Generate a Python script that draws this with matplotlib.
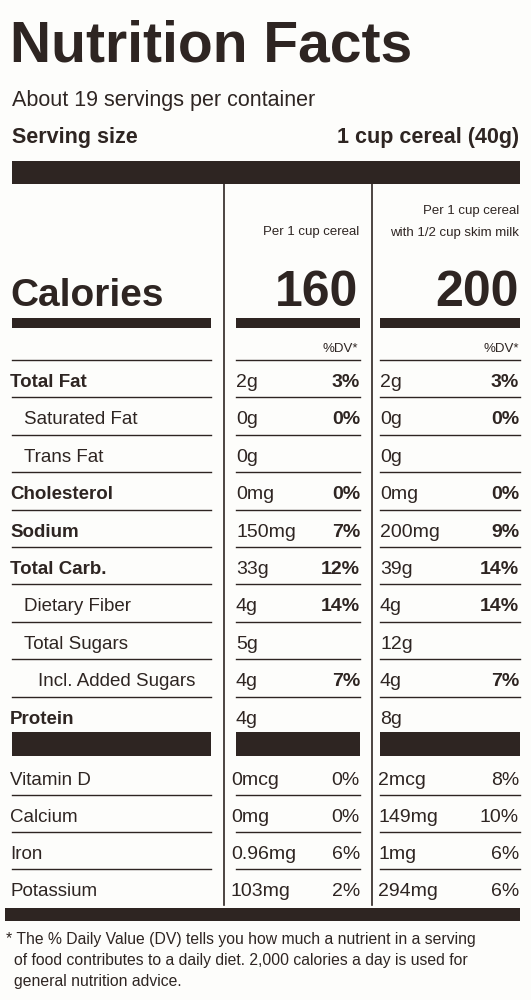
import matplotlib
matplotlib.use("Agg")
import matplotlib.pyplot as plt
from matplotlib.patches import Rectangle

servings = "About 19 servings per container"
serving_size = "1 cup cereal (40g)"
col_heads = [["Per 1 cup cereal"], ["Per 1 cup cereal", "with 1/2 cup skim milk"]]
calories = ["160", "200"]
nutrients = ["Total Fat", "Saturated Fat", "Trans Fat", "Cholesterol", "Sodium",
             "Total Carb.", "Dietary Fiber", "Total Sugars", "Incl. Added Sugars", "Protein"]
bold_rows = [True, False, False, True, True, True, False, False, False, True]
indent = [0, 1, 1, 0, 0, 0, 1, 1, 2, 0]
amt1 = ["2g", "0g", "0g", "0mg", "150mg", "33g", "4g", "5g", "4g", "4g"]
dv1 = ["3%", "0%", "", "0%", "7%", "12%", "14%", "", "7%", ""]
amt2 = ["2g", "0g", "0g", "0mg", "200mg", "39g", "4g", "12g", "4g", "8g"]
dv2 = ["3%", "0%", "", "0%", "9%", "14%", "14%", "", "7%", ""]
vitamins = ["Vitamin D", "Calcium", "Iron", "Potassium"]
vamt1 = ["0mcg", "0mg", "0.96mg", "103mg"]
vdv1 = ["0%", "0%", "6%", "2%"]
vamt2 = ["2mcg", "149mg", "1mg", "294mg"]
vdv2 = ["8%", "10%", "6%", "6%"]
footnote = ["* The % Daily Value (DV) tells you how much a nutrient in a serving",
            "of food contributes to a daily diet. 2,000 calories a day is used for",
            "general nutrition advice."]

C = "#2e2522"
N = "Liberation Sans"
fig = plt.figure(figsize=(5.31, 10), dpi=100)
fig.patch.set_facecolor("#fdfdfb")
ax = fig.add_axes([0, 0, 1, 1])
ax.set_xlim(0, 531); ax.set_ylim(1000, 0); ax.axis("off")

def bar(x0, x1, y0, y1):
    ax.add_patch(Rectangle((x0, y0), x1 - x0, y1 - y0, color=C, lw=0))
def hl(x0, x1, y, lw=1.0):
    ax.plot([x0, x1], [y, y], color=C, lw=lw)
def t(x, y, s, size, ha="left", bold=False, fam=N, style="normal"):
    ax.text(x, y, s, fontsize=size, ha=ha, va="baseline", color=C,
            fontweight="bold" if bold else "normal", family=fam, style=style)

t(10, 62, "Nutrition Facts", 41, bold=True, fam="Liberation Sans")
t(12, 106, servings, 15.5)
t(12, 143, "Serving size", 15.5, bold=True)
t(519, 143, serving_size, 15.5, ha="right", bold=True)
bar(12, 520, 161, 184)
X1, X2 = 224, 372
for x in (X1, X2):
    ax.plot([x, x], [184, 905], color=C, lw=1.2)
t(359, 235, col_heads[0][0], 9.5, ha="right")
t(519, 214, col_heads[1][0], 9.5, ha="right")
t(519, 236, col_heads[1][1], 9.5, ha="right")
t(10, 306, "Calories", 28, bold=True)
t(358, 306, calories[0], 36, ha="right", bold=True)
t(519, 306, calories[1], 36, ha="right", bold=True)
segs = [(12, 211), (236, 360), (380, 520)]
for a, b in segs:
    bar(a, b, 318, 328)
t(358, 352, "%DV*", 9.5, ha="right")
t(519, 352, "%DV*", 9.5, ha="right")

y0, dy = 360, 37.4
for i, n in enumerate(nutrients):
    top = y0 + i * dy
    for a, b in segs:
        hl(a, b, top)
    yb = top + 27
    t(10 + 14 * indent[i], yb, n, 13.5, bold=bold_rows[i])
    t(236, yb, amt1[i], 14)
    t(360, yb, dv1[i], 14, ha="right", bold=True)
    t(380, yb, amt2[i], 14)
    t(519, yb, dv2[i], 14, ha="right", bold=True)
for a, b in segs:
    bar(a, b, 732, 756)
v0 = 758
for i, n in enumerate(vitamins):
    top = v0 + i * 37
    if i > 0:
        for a, b in segs:
            hl(a, b, top)
    yb = top + 27
    t(10, yb, n, 13.5)
    t(231, yb, vamt1[i], 14)
    t(360, yb, vdv1[i], 14, ha="right")
    t(378, yb, vamt2[i], 14)
    t(519, yb, vdv2[i], 14, ha="right")
bar(5, 520, 908, 921)
for i, line in enumerate(footnote):
    t(6 if i == 0 else 14, 944 + i * 21, line, 11.3)
fig.savefig("out.png", dpi=100, facecolor=fig.get_facecolor())
